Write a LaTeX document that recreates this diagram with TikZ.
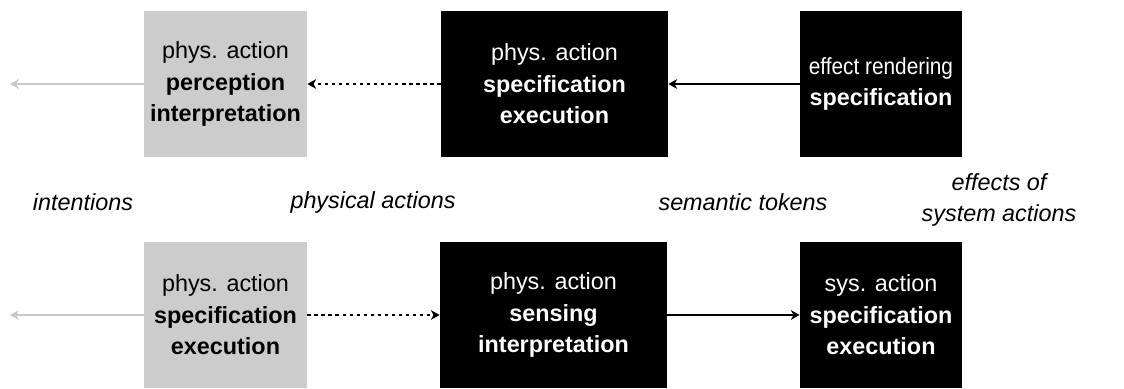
\documentclass[tikz,border=0pt]{standalone}
\usepackage{fontspec}
\setmainfont{Liberation Sans}
\usetikzlibrary{arrows.meta}
\definecolor{boxgray}{RGB}{204,204,204}
\definecolor{linegray}{RGB}{200,200,200}
\begin{document}
\begin{tikzpicture}[
    every node/.style={font=\fontsize{13.3}{18}\selectfont},
    graybox/.style={fill=boxgray, text=black, align=center, minimum height=2.92cm, inner sep=0pt},
    blackbox/.style={fill=black, text=white, align=center, minimum height=2.92cm, inner sep=0pt},
    flow/.style={line width=0.7pt, -{Stealth[length=5pt, width=5.5pt, inset=1.5pt]}},
    flowlabel/.style={font=\fontsize{13.3}{18}\selectfont\itshape, align=center}
  ]
  \useasboundingbox (0,0) rectangle (22.48,7.76);

  % top row
  \node[graybox, minimum width=3.26cm] (perc) at (4.51,6.08) {phys. action\\\textbf{perception}\\\textbf{interpretation}};
  \node[blackbox, minimum width=4.54cm] (physexec) at (11.09,6.08) {phys. action\\\textbf{specification}\\\textbf{execution}};
  \node[blackbox, minimum width=3.24cm] (render) at (17.62,6.08) {\scalebox{0.89}[1]{effect rendering}\\\textbf{specification}};

  % bottom row
  \node[graybox, minimum width=3.26cm] (physspec) at (4.51,1.46) {phys. action\\\textbf{specification}\\\textbf{execution}};
  \node[blackbox, minimum width=4.54cm] (sensing) at (11.07,1.46) {phys. action\\\textbf{sensing}\\\textbf{interpretation}};
  \node[blackbox, minimum width=3.24cm] (sysexec) at (17.62,1.46) {sys. action\\\textbf{specification}\\\textbf{execution}};

  \coordinate (topend) at (0.2,6.08);
  \coordinate (botend) at (0.2,1.46);

  \draw[flow, linegray] (perc) -- (topend);
  \draw[flow, dash pattern=on 2pt off 2pt] (physexec) -- (perc);
  \draw[flow] (render) -- (physexec);

  \draw[flow, linegray] (physspec) -- (botend);
  \draw[flow, dash pattern=on 2pt off 2pt] (physspec) -- (sensing);
  \draw[flow] (sensing) -- (sysexec);

  % what flows between the columns
  \node[flowlabel] (intent) at (1.66,3.72) {intentions};
  \node[flowlabel] (physact) at (7.46,3.72) {physical actions};
  \node[flowlabel] (tokens) at (14.86,3.72) {semantic tokens};
  \node[flowlabel] (effects) at (19.98,3.76) {effects of\\system actions};
\end{tikzpicture}
\end{document}
